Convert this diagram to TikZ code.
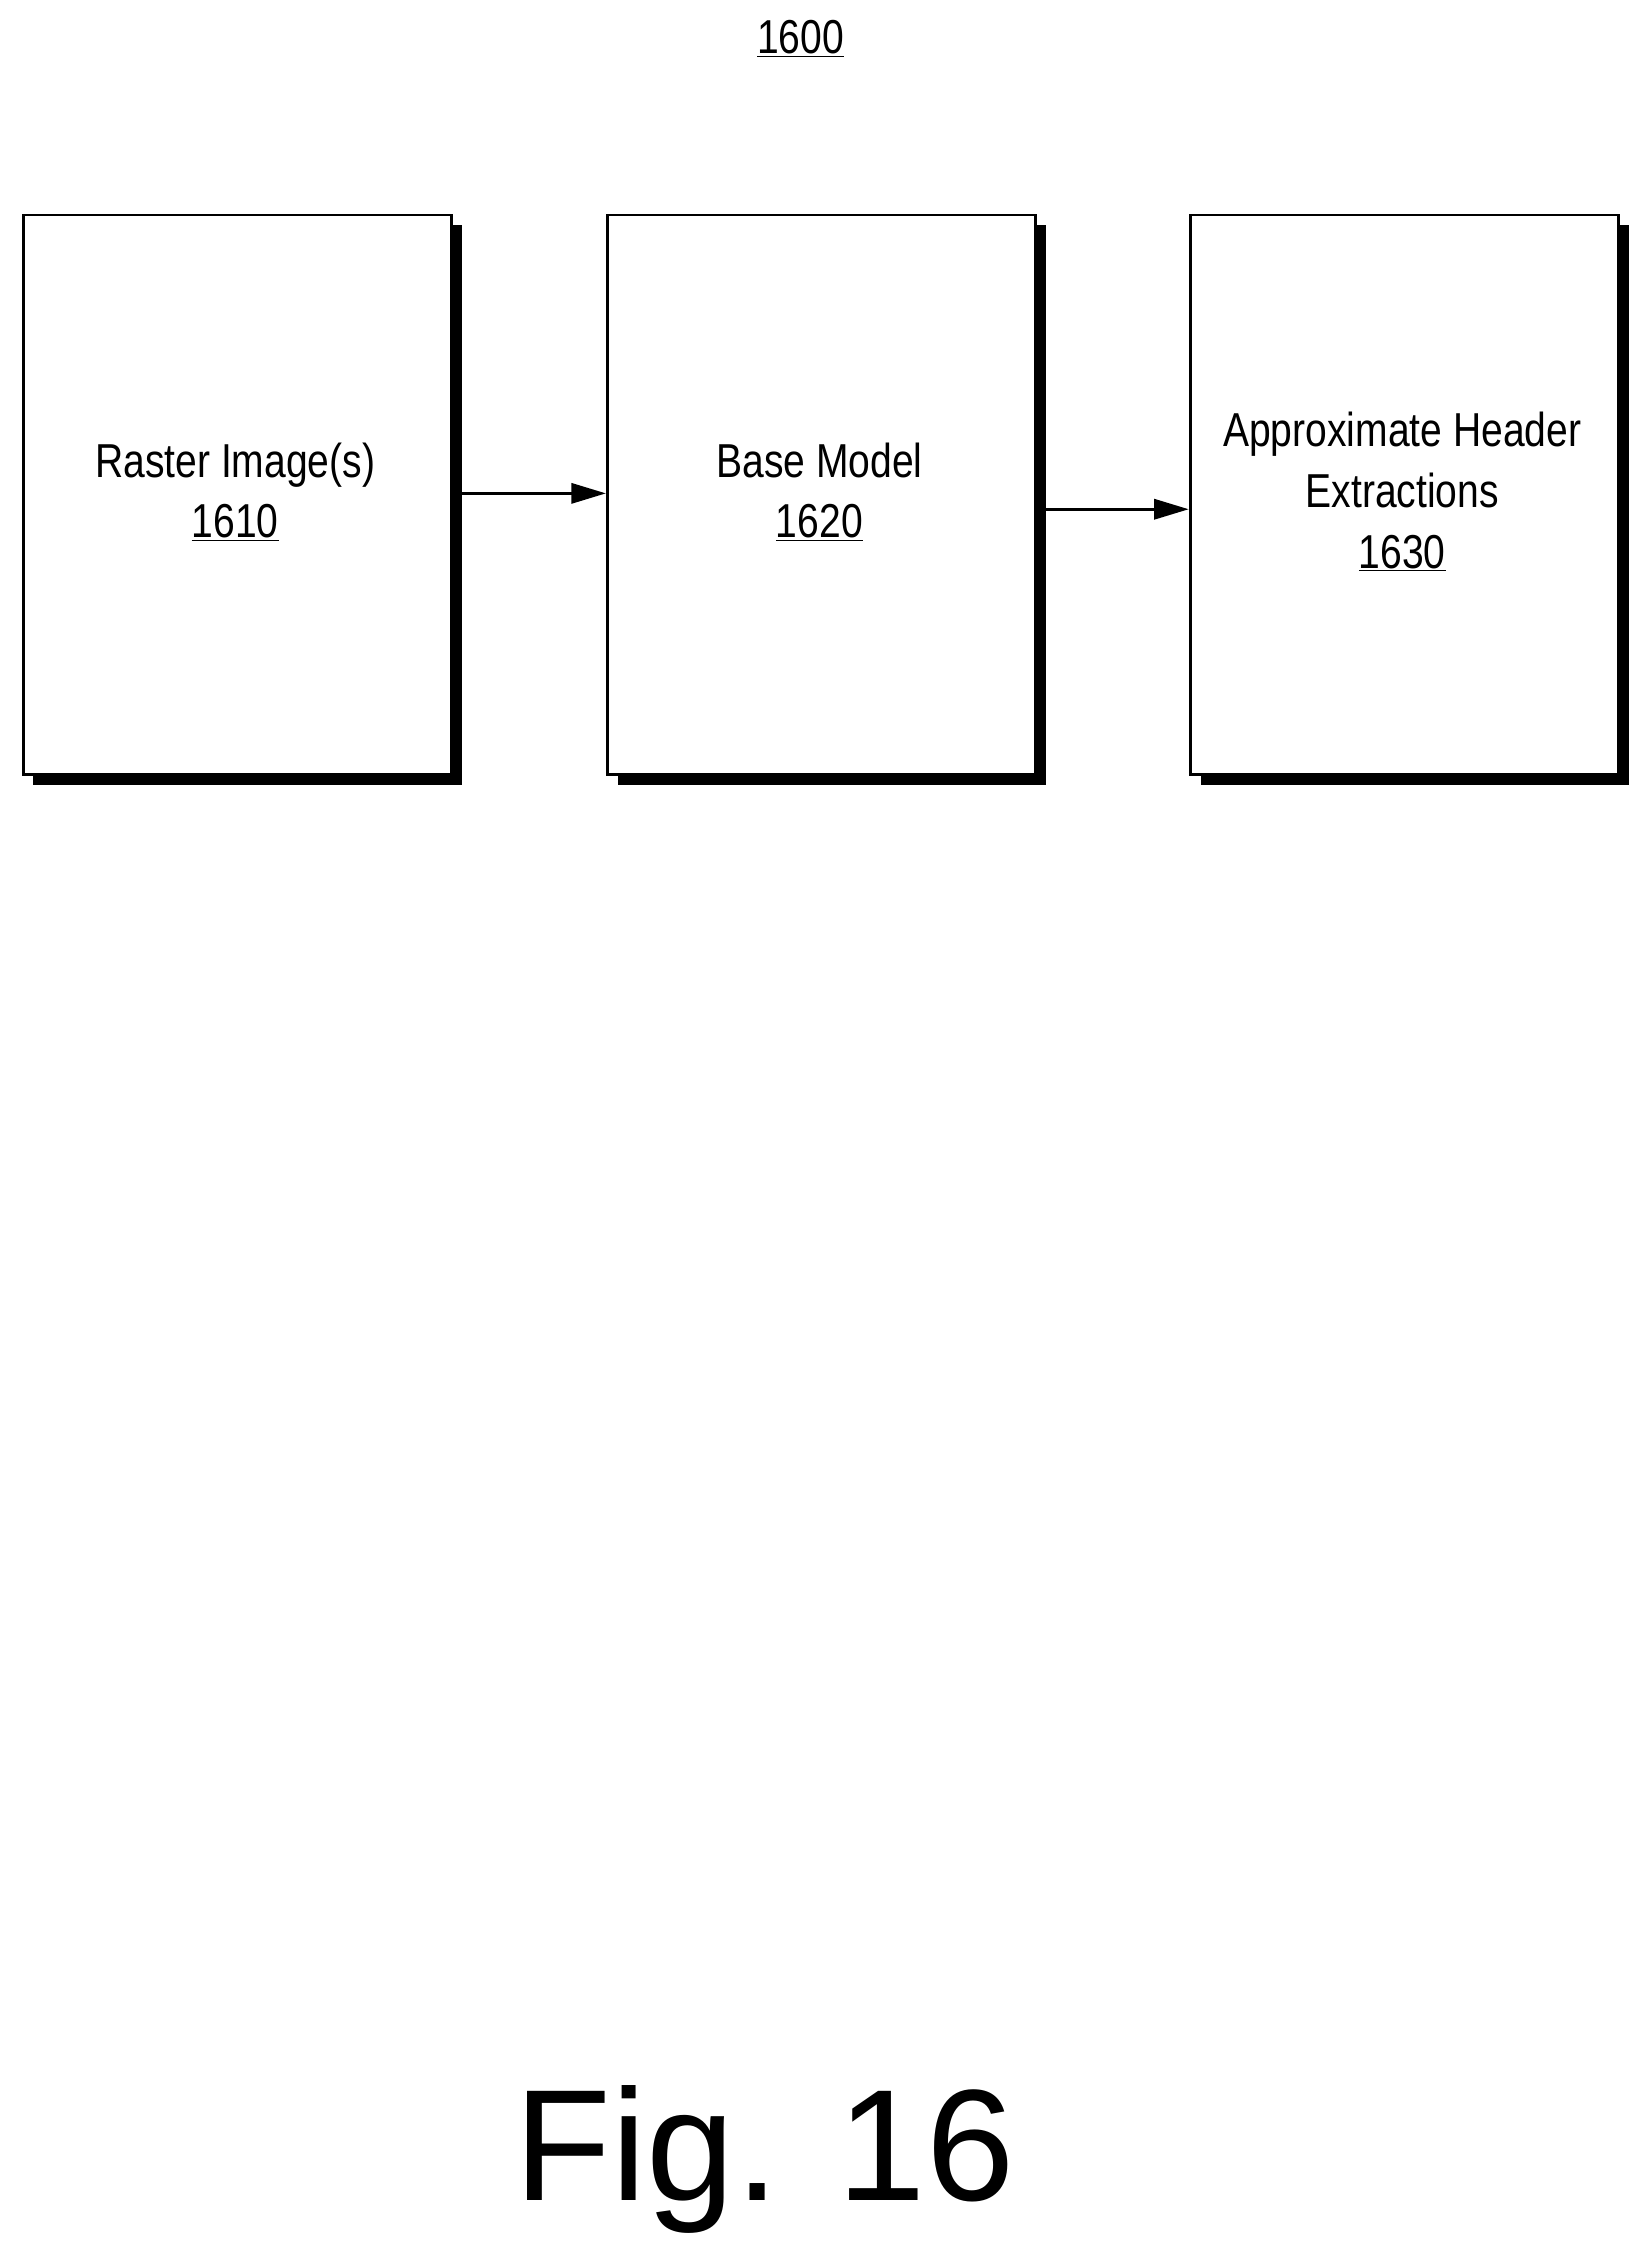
\documentclass[tikz,border=0pt]{standalone}
\usepackage{fontspec}
\setmainfont{Liberation Sans}
\newfontfamily\narrowf[FakeStretch=0.82]{Liberation Sans}
\usetikzlibrary{arrows.meta}
\begin{document}
\begin{tikzpicture}[x=1pt,y=-1pt,
  blk/.style={draw,line width=2pt,fill=white,minimum width=297pt,minimum height=388pt,anchor=north west,inner sep=0pt},
  shd/.style={fill=black,minimum width=297pt,minimum height=388pt,anchor=north west,inner sep=0pt},
  lbl/.style={font=\narrowf\fontsize{33}{42}\selectfont,align=center},
  arr/.style={line width=2pt,-{Triangle[length=24pt,width=14pt]}}]
\useasboundingbox (0,0) rectangle (1144,1568);
\node[lbl] (title) at (555,27) {\underline{1600}};
\foreach \x in {15,420,824} \node[shd] at (\x+8,156) {};
\node[blk] (b1) at (15,148) {};
\node[blk] (b2) at (420,148) {};
\node[blk] (b3) at (824,148) {};
\node[lbl] at (163,341) {Raster Image(s)\\\underline{1610}};
\node[lbl] at (568,341) {Base Model\\\underline{1620}};
\node[lbl] at (972,341) {Approximate Header\\Extractions\\\underline{1630}};
\coordinate (a1) at (320,342); \coordinate (a2) at (725,353);
\draw[arr] (a1) -- (b2.west |- a1);
\draw[arr] (a2) -- (b3.west |- a2);
\node[font=\fontsize{110}{120}\selectfont] (fig) at (530,1497) {Fig. 16};
\end{tikzpicture}
\end{document}
